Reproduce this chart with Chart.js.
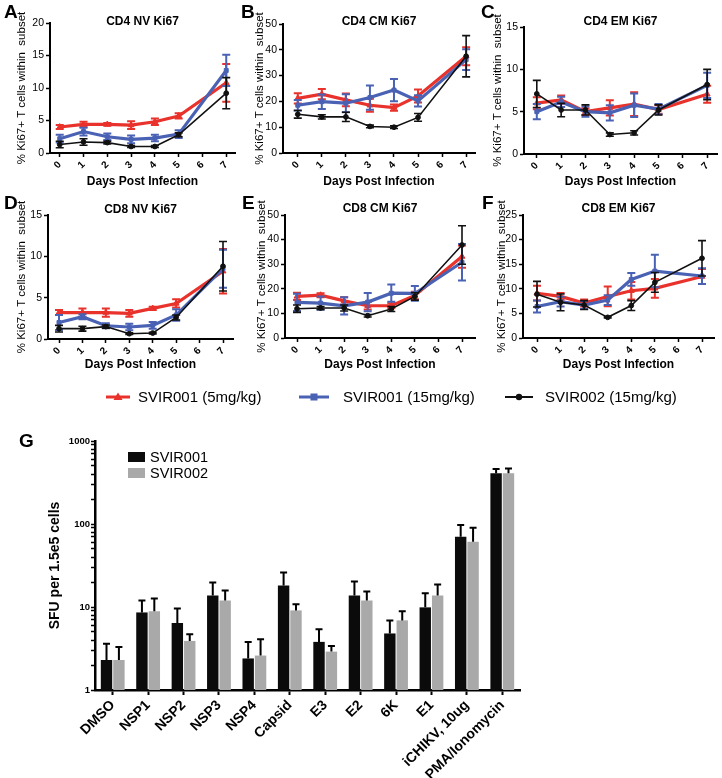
<!DOCTYPE html>
<html><head><meta charset="utf-8">
<script src="https://cdn.jsdelivr.net/npm/chart.js@4"></script>
<style>
body{margin:0;background:#fff;}
#wrap{position:relative;width:722px;height:778px;overflow:hidden;font-family:'Liberation Sans',Arial,sans-serif;color:#000;background:#fff;}
canvas{position:absolute;}
.letter{position:absolute;font-weight:bold;font-size:19px;line-height:19px;}
.leg{position:absolute;font-size:15px;line-height:16px;white-space:nowrap;}
.legsvg{position:absolute;}
.gbox{position:absolute;width:17px;height:10px;}
.gtxt{position:absolute;font-size:14.5px;line-height:16px;white-space:nowrap;}
</style></head>
<body>
<div id="wrap">
  <canvas id="cA" width="240" height="192" style="left:0;top:0"></canvas>
  <canvas id="cB" width="240" height="192" style="left:240px;top:0"></canvas>
  <canvas id="cC" width="242" height="192" style="left:480px;top:0"></canvas>
  <canvas id="cD" width="240" height="190" style="left:0;top:192px"></canvas>
  <canvas id="cE" width="240" height="190" style="left:240px;top:192px"></canvas>
  <canvas id="cF" width="242" height="190" style="left:480px;top:192px"></canvas>
  <canvas id="cG" width="540" height="358" style="left:0;top:420px"></canvas>

  <div class="letter" style="left:4px;top:2px">A</div>
  <div class="letter" style="left:241px;top:2px">B</div>
  <div class="letter" style="left:481px;top:2px">C</div>
  <div class="letter" style="left:4px;top:193px">D</div>
  <div class="letter" style="left:242px;top:193px">E</div>
  <div class="letter" style="left:482px;top:193px">F</div>
  <div class="letter" style="left:19px;top:431px">G</div>

  <svg class="legsvg" style="left:104px;top:389px" width="28" height="16">
    <line x1="2" y1="8" x2="26" y2="8" stroke="#e8322b" stroke-width="3"/>
    <polygon points="14,3.5 18.5,11 9.5,11" fill="#e8322b"/>
  </svg>
  <div class="leg" style="left:138px;top:389px">SVIR001 (5mg/kg)</div>
  <svg class="legsvg" style="left:297px;top:389px" width="34" height="16">
    <line x1="2" y1="8" x2="32" y2="8" stroke="#4a62b4" stroke-width="3"/>
    <rect x="13.5" y="4.5" width="7" height="7" fill="#4a62b4"/>
  </svg>
  <div class="leg" style="left:343px;top:389px">SVIR001 (15mg/kg)</div>
  <svg class="legsvg" style="left:503px;top:389px" width="32" height="16">
    <line x1="2" y1="8" x2="30" y2="8" stroke="#111" stroke-width="2"/>
    <circle cx="16" cy="8" r="3.2" fill="#111"/>
  </svg>
  <div class="leg" style="left:545px;top:389px">SVIR002 (15mg/kg)</div>

  <div class="gbox" style="left:128px;top:452px;background:#0b0b0b"></div>
  <div class="gtxt" style="left:150px;top:449px">SVIR001</div>
  <div class="gbox" style="left:128px;top:468px;background:#a9a9a9"></div>
  <div class="gtxt" style="left:150px;top:465px">SVIR002</div>
</div>
<script>
// ---------------- DATA ----------------
const days = [0, 1, 2, 3, 4, 5, 7];
const dayTicks = [0, 1, 2, 3, 4, 5, 6, 7];
const seriesNames = ['SVIR001 (5mg/kg)', 'SVIR001 (15mg/kg)', 'SVIR002 (15mg/kg)'];

// A: CD4 NV Ki67
const cd4nv_s1_5 = [4.0, 4.4, 4.4, 4.3, 4.8, 5.7, 10.8];
const cd4nv_s1_5_err = [0.3, 0.4, 0.2, 0.6, 0.5, 0.4, 2.9];
const cd4nv_s1_15 = [2.2, 3.3, 2.5, 2.1, 2.3, 2.9, 12.7];
const cd4nv_s1_15_err = [0.6, 0.6, 0.5, 0.6, 0.5, 0.6, 2.4];
const cd4nv_s2_15 = [1.3, 1.7, 1.6, 1.0, 1.0, 2.8, 9.2];
const cd4nv_s2_15_err = [0.5, 0.5, 0.2, 0.15, 0.15, 0.3, 2.4];

// B: CD4 CM Ki67
const cd4cm_s1_5 = [21.2, 22.8, 20.6, 18.5, 17.6, 22.1, 37.5];
const cd4cm_s1_5_err = [2, 2, 2.5, 2.5, 1.2, 2.5, 3.5];
const cd4cm_s1_15 = [18.5, 19.9, 19.3, 21.5, 24.4, 20.2, 36.2];
const cd4cm_s1_15_err = [2, 2.8, 3.5, 4.7, 4.3, 2.2, 4];
const cd4cm_s2_15 = [15, 14, 14, 10.3, 10, 13.8, 37.5];
const cd4cm_s2_15_err = [1.5, 0.8, 1.8, 0.5, 0.5, 1.5, 8];

// C: CD4 EM Ki67
const cd4em_s1_5 = [6.0, 6.4, 5.0, 5.45, 5.9, 5.25, 7.06];
const cd4em_s1_5_err = [0.7, 0.5, 0.4, 0.9, 1.4, 0.5, 1.0];
const cd4em_s1_15 = [5.0, 6.15, 5.0, 4.86, 5.76, 5.3, 8.1];
const cd4em_s1_15_err = [0.9, 0.6, 0.6, 0.9, 1.4, 0.6, 1.5];
const cd4em_s2_15 = [7.1, 5.2, 5.2, 2.3, 2.5, 5.2, 8.2];
const cd4em_s2_15_err = [1.6, 0.8, 0.6, 0.2, 0.25, 0.6, 1.8];

// D: CD8 NV Ki67
const cd8nv_s1_5 = [3.2, 3.2, 3.2, 3.1, 3.7, 4.3, 8.2];
const cd8nv_s1_5_err = [0.3, 0.5, 0.5, 0.4, 0.2, 0.5, 2.7];
const cd8nv_s1_15 = [2.0, 2.7, 1.6, 1.45, 1.65, 2.9, 8.5];
const cd8nv_s1_15_err = [0.9, 0.3, 0.3, 0.4, 0.4, 0.7, 2.3];
const cd8nv_s2_15 = [1.25, 1.25, 1.5, 0.64, 0.72, 2.6, 8.8];
const cd8nv_s2_15_err = [0.4, 0.3, 0.2, 0.1, 0.1, 0.3, 3.0];

// E: CD8 CM Ki67
const cd8cm_s1_5 = [16.9, 17.4, 15.1, 13.1, 13.1, 17.3, 33.1];
const cd8cm_s1_5_err = [1.5, 0.8, 1.5, 1.5, 1, 1.5, 4.5];
const cd8cm_s1_15 = [14.5, 14.2, 13.1, 14.6, 18.2, 18.1, 30.8];
const cd8cm_s1_15_err = [3.5, 2.7, 3.5, 3.7, 3.5, 3, 7.4];
const cd8cm_s2_15 = [11.9, 12.2, 12.2, 9.05, 11.8, 16.9, 37.8];
const cd8cm_s2_15_err = [1.5, 0.6, 1.2, 0.5, 1, 1.5, 7.8];

// F: CD8 EM Ki67
const cd8em_s1_5 = [9.1, 8.45, 7.1, 8.45, 9.6, 10.1, 12.5];
const cd8em_s1_5_err = [1.5, 0.7, 0.7, 2, 1.8, 1.9, 1.5];
const cd8em_s1_15 = [6.4, 7.4, 6.7, 7.7, 11.9, 13.6, 12.6];
const cd8em_s1_15_err = [1.2, 1, 0.8, 1, 1.3, 3.3, 1.6];
const cd8em_s2_15 = [8.9, 7.25, 6.7, 4.2, 6.6, 11.3, 16.2];
const cd8em_s2_15_err = [2.6, 1.7, 0.9, 0.15, 1, 2, 3.6];

// G: ELISpot
const antigens = ['DMSO', 'NSP1', 'NSP2', 'NSP3', 'NSP4', 'Capsid', 'E3', 'E2', '6K', 'E1', 'iCHIKV, 10ug', 'PMA/Ionomycin'];
const sfuSVIR001 = [2.3, 8.6, 6.4, 13.8, 2.4, 18.2, 3.8, 13.8, 4.8, 9.9, 70, 410];
const sfuSVIR001_err = [1.3, 3.4, 3.2, 6.0, 1.4, 7.8, 1.6, 6.5, 2.1, 4.7, 27, 50];
const sfuSVIR002 = [2.3, 8.9, 3.9, 12.0, 2.6, 9.1, 2.9, 12.0, 6.9, 13.8, 61, 410];
const sfuSVIR002_err = [1.0, 3.8, 0.8, 3.8, 1.5, 1.7, 0.5, 3.4, 2.0, 4.9, 29, 55];
const sfuMajorTicks = [1, 10, 100, 1000];

// ---------------- STYLE ----------------
const FONT = "'Liberation Sans', Arial, Helvetica, sans-serif";
Chart.defaults.font.family = FONT;
Chart.defaults.color = '#000';
const RED = '#e8322b', BLUE = '#4a62b4', BLACK = '#111111';

const errorBars = {
  id: 'errorBars',
  afterDatasetDraw(chart, args) {
    const ds = chart.data.datasets[args.index];
    if (!ds.errors) return;
    const ys = chart.scales.y;
    const ctx = chart.ctx;
    ctx.save();
    ctx.strokeStyle = ds.errorColor || ds.borderColor;
    ctx.lineWidth = ds.errorWidth || 1.5;
    const cap = ds.capHalf || 4;
    args.meta.data.forEach((el, i) => {
      const raw = ds.data[i];
      const v = (raw && typeof raw === 'object') ? raw.y : raw;
      const e = ds.errors[i];
      if (v == null || e == null) return;
      const x = el.x;
      const top = ys.getPixelForValue(v + e);
      const bot = ds.oneSided ? el.y : ys.getPixelForValue(v - e);
      ctx.beginPath();
      ctx.moveTo(x, top); ctx.lineTo(x, bot);
      ctx.moveTo(x - cap, top); ctx.lineTo(x + cap, top);
      if (!ds.oneSided) { ctx.moveTo(x - cap, bot); ctx.lineTo(x + cap, bot); }
      ctx.stroke();
    });
    ctx.restore();
  }
};

function pts(vals) { return days.map((d, i) => ({ x: d, y: vals[i] })); }

function makeLine(id, c) {
  const mk = (vals, errs, color, style, radius, width, order, ew) => ({
    data: pts(vals), errors: errs, borderColor: color, backgroundColor: color,
    pointBackgroundColor: color, pointBorderColor: color, pointStyle: style,
    pointRadius: radius, pointBorderWidth: 1, borderWidth: width, errorWidth: ew, order: order, tension: 0, capHalf: 4
  });
  const unit = (c.x7 - c.x0) / 7;
  new Chart(document.getElementById(id), {
    type: 'line',
    data: {
      datasets: [
        mk(c.red, c.redErr, RED, 'triangle', 3.4, 3.2, 2, 2),
        mk(c.blue, c.blueErr, BLUE, 'rect', 2.8, 3.2, 1, 2),
        mk(c.black, c.blackErr, BLACK, 'circle', 2.4, 1.6, 0, 1.6)
      ]
    },
    plugins: [errorBars],
    options: {
      responsive: false, animation: false, devicePixelRatio: 1,
      layout: { padding: { top: 0, right: c.padR, left: 0, bottom: 0 } },
      plugins: {
        legend: { display: false }, tooltip: { enabled: false },
        title: {
          display: true, text: c.title, fullSize: false, color: '#000',
          font: { size: 12, weight: 'bold', lineHeight: 1.2 },
          padding: { top: c.tCenter - 7.2, bottom: c.top - c.tCenter - 7.2 }
        }
      },
      scales: {
        x: {
          type: 'linear',
          min: -(c.x0 - c.left) / unit,
          max: 7 + (c.right - c.x7) / unit,
          afterBuildTicks: s => { s.ticks = dayTicks.map(v => ({ value: v })); },
          afterFit: s => { s.height = c.xH; },
          ticks: { minRotation: 45, maxRotation: 45, autoSkip: false, font: { size: 10, weight: 'bold' }, color: '#000', padding: 2 },
          grid: { drawOnChartArea: false, drawTicks: true, tickLength: 4, tickColor: '#000', tickWidth: 1.5 },
          border: { display: true, color: '#000', width: 2 },
          title: { display: true, text: 'Days Post Infection', color: '#000', font: { size: 12, weight: 'bold', lineHeight: 1.2 }, padding: { top: 0, bottom: c.xtB } }
        },
        y: {
          min: 0, max: c.ymax,
          ticks: { stepSize: c.step, font: { size: 10.5 }, color: '#000', padding: 2 },
          afterFit: s => { s.width = c.yW; },
          grid: { drawOnChartArea: false, drawTicks: true, tickLength: 4, tickColor: '#000', tickWidth: 1.5 },
          border: { display: true, color: '#000', width: 2 },
          title: { display: true, text: '% Ki67+ T cells within  subset', color: '#000', font: { size: 11.5, lineHeight: 1.2 }, padding: { top: c.ytX - 6.9, bottom: 0 } }
        }
      }
    }
  });
}

// geometry (canvas-relative)
makeLine('cA', { title: 'CD4 NV Ki67', ymax: 20, step: 5, left: 50, x0: 60, x7: 231, right: 240, padR: 0, yW: 50, xH: 39, top: 23, tCenter: 22, xtB: 3, ytX: 22,
  red: cd4nv_s1_5, redErr: cd4nv_s1_5_err, blue: cd4nv_s1_15, blueErr: cd4nv_s1_15_err, black: cd4nv_s2_15, blackErr: cd4nv_s2_15_err });
makeLine('cB', { title: 'CD4 CM Ki67', ymax: 50, step: 10, left: 43, x0: 58, x7: 229, right: 238, padR: 2, yW: 43, xH: 39, top: 24, tCenter: 22, xtB: 3, ytX: 20,
  red: cd4cm_s1_5, redErr: cd4cm_s1_5_err, blue: cd4cm_s1_15, blueErr: cd4cm_s1_15_err, black: cd4cm_s2_15, blackErr: cd4cm_s2_15_err });
makeLine('cC', { title: 'CD4 EM Ki67', ymax: 15, step: 5, left: 44, x0: 57, x7: 230, right: 240, padR: 2, yW: 44, xH: 38, top: 27, tCenter: 22, xtB: 3, ytX: 18,
  red: cd4em_s1_5, redErr: cd4em_s1_5_err, blue: cd4em_s1_15, blueErr: cd4em_s1_15_err, black: cd4em_s2_15, blackErr: cd4em_s2_15_err });
makeLine('cD', { title: 'CD8 NV Ki67', ymax: 15, step: 5, left: 48, x0: 59, x7: 223, right: 233, padR: 7, yW: 48, xH: 43, top: 23, tCenter: 18, xtB: 10, ytX: 22,
  red: cd8nv_s1_5, redErr: cd8nv_s1_5_err, blue: cd8nv_s1_15, blueErr: cd8nv_s1_15_err, black: cd8nv_s2_15, blackErr: cd8nv_s2_15_err });
makeLine('cE', { title: 'CD8 CM Ki67', ymax: 50, step: 10, left: 45, x0: 57, x7: 222, right: 235, padR: 5, yW: 45, xH: 44, top: 23, tCenter: 17, xtB: 10, ytX: 22,
  red: cd8cm_s1_5, redErr: cd8cm_s1_5_err, blue: cd8cm_s1_15, blueErr: cd8cm_s1_15_err, black: cd8cm_s2_15, blackErr: cd8cm_s2_15_err });
makeLine('cF', { title: 'CD8 EM Ki67', ymax: 25, step: 5, left: 43, x0: 57, x7: 222, right: 234, padR: 8, yW: 43, xH: 44, top: 23, tCenter: 17, xtB: 10, ytX: 22,
  red: cd8em_s1_5, redErr: cd8em_s1_5_err, blue: cd8em_s1_15, blueErr: cd8em_s1_15_err, black: cd8em_s2_15, blackErr: cd8em_s2_15_err });

// ---------------- G: bar chart ----------------
new Chart(document.getElementById('cG'), {
  type: 'bar',
  data: {
    labels: antigens,
    datasets: [
      { label: 'SVIR001', data: sfuSVIR001, errors: sfuSVIR001_err, backgroundColor: '#0b0b0b', borderWidth: 0,
        oneSided: true, errorColor: '#000', errorWidth: 2, capHalf: 3.5, categoryPercentage: 0.7, barPercentage: 0.92 },
      { label: 'SVIR002', data: sfuSVIR002, errors: sfuSVIR002_err, backgroundColor: '#a9a9a9', borderWidth: 0,
        oneSided: true, errorColor: '#000', errorWidth: 2, capHalf: 3.5, categoryPercentage: 0.7, barPercentage: 0.92 }
    ]
  },
  plugins: [errorBars],
  options: {
    responsive: false, animation: false, devicePixelRatio: 1,
    layout: { padding: { top: 21, right: 20, left: 0, bottom: 0 } },
    plugins: { legend: { display: false }, tooltip: { enabled: false }, title: { display: false } },
    scales: {
      x: {
        ticks: { minRotation: 45, maxRotation: 45, autoSkip: false, font: { size: 14, weight: 'bold' }, color: '#000', padding: 2 },
        afterFit: s => { s.height = 88; },
        grid: { drawOnChartArea: false, drawTicks: true, tickLength: 5, tickColor: '#000', tickWidth: 2, offset: false },
        border: { display: true, color: '#000', width: 2.5 }
      },
      y: {
        type: 'logarithmic', min: 1, max: 1000,
        afterBuildTicks: s => {
          const t = [];
          for (let d = 0; d < sfuMajorTicks.length; d++) {
            const base = sfuMajorTicks[d];
            if (d === sfuMajorTicks.length - 1) { t.push({ value: base }); break; }
            for (let k = 1; k < 10; k++) t.push({ value: base * k });
          }
          s.ticks = t;
        },
        afterFit: s => { s.width = 95; },
        ticks: {
          autoSkip: false, font: { size: 9.5, weight: 'bold' }, color: '#000', padding: 1,
          callback: v => sfuMajorTicks.includes(v) ? String(v) : ''
        },
        grid: { drawOnChartArea: false, drawTicks: true, tickLength: 4, tickColor: '#000', tickWidth: 1.5 },
        border: { display: true, color: '#000', width: 2.5 },
        title: { display: true, text: 'SFU per 1.5e5 cells', color: '#000', font: { size: 14, weight: 'bold', lineHeight: 1.2 }, padding: { top: 47, bottom: 0 } }
      }
    }
  }
});
</script>
</body></html>
